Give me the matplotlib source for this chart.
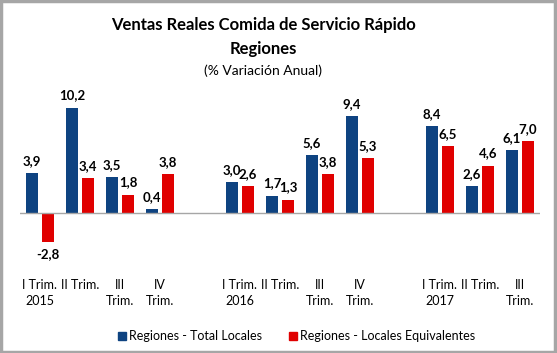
import matplotlib.pyplot as plt
from matplotlib.patches import Rectangle
import numpy as np

plt.rcParams['font.family'] = ['Lato', 'DejaVu Sans']

# categories (empty strings are the gaps between years)
categorias = ['I Trim.\n2015', 'II Trim.', 'III\nTrim.', 'IV\nTrim.', '',
              'I Trim.\n2016', 'II Trim.', 'III\nTrim.', 'IV\nTrim.', '',
              'I Trim.\n2017', 'II Trim.', 'III\nTrim.']
total_locales = [3.9, 10.2, 3.5, 0.4, None, 3.0, 1.7, 5.6, 9.4, None, 8.4, 2.6, 6.1]
locales_equiv = [-2.8, 3.4, 1.8, 3.8, None, 2.6, 1.3, 3.8, 5.3, None, 6.5, 4.6, 7.0]

AZUL = '#0E4381'
ROJO = '#E00000'

fig = plt.figure(figsize=(5.57, 3.53), dpi=100)
ax = fig.add_axes([20/557, 1 - 268/353, 520/557, 183/353])

x = np.arange(len(categorias))
w = 0.32
off = 0.2

for i, (a, b) in enumerate(zip(total_locales, locales_equiv)):
    if a is None:
        continue
    ax.bar(x[i] - off, a, width=w, color=AZUL)
    ax.bar(x[i] + off, b, width=w, color=ROJO)
    for val, xx in ((a, x[i] - off), (b, x[i] + off)):
        lab = f'{val:.1f}'.replace('.', ',')
        if val >= 0:
            ax.text(xx, val + 0.6, lab, ha='center', va='bottom',
                    fontsize=9.5, fontweight='bold')
        else:
            ax.text(xx, val - 0.6, lab, ha='center', va='top',
                    fontsize=9.5, fontweight='bold')

ax.axhline(0, color='#A6A6A6', lw=1)
ax.set_xlim(-0.5, len(categorias) - 0.5)
ax.set_ylim(-5.3, 12.4)
ax.set_yticks([])
ax.set_xticks([])
for s in ax.spines.values():
    s.set_visible(False)

# category labels at the bottom of the plot area
for i, c in enumerate(categorias):
    ax.text(x[i], -6.4, c, ha='center', va='top', fontsize=9,
            linespacing=1.35)

cx = 263/557
fig.text(cx, 1 - 25/353, 'Ventas Reales Comida de Servicio Rápido',
         ha='center', va='center', fontsize=12, fontweight='bold')
fig.text(cx, 1 - 49/353, 'Regiones', ha='center', va='center',
         fontsize=12, fontweight='bold')
fig.text(cx, 1 - 71/353, '(% Variación Anual)', ha='center', va='center',
         fontsize=10)

# legend
fig.patches.append(Rectangle((118/557, 1 - 340/353), 8/557, 8/353,
                             transform=fig.transFigure, color=AZUL))
fig.text(129/557, 1 - 336/353, 'Regiones - Total Locales', va='center',
         fontsize=9)
fig.patches.append(Rectangle((289/557, 1 - 340/353), 8/557, 8/353,
                             transform=fig.transFigure, color=ROJO))
fig.text(300/557, 1 - 336/353, 'Regiones - Locales Equivalentes',
         va='center', fontsize=9)

# outer border
fig.patches.append(Rectangle((0.002, 0.003), 0.995, 0.994, transform=fig.transFigure,
                             fill=False, edgecolor='#A6A6A6', lw=2.5))

fig.savefig('out.png', dpi=100)
